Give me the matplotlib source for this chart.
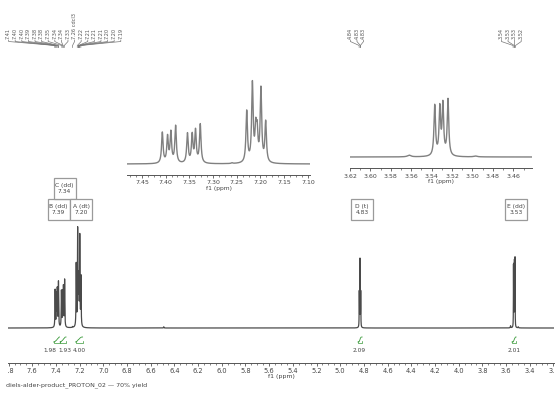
import numpy as np
import matplotlib
matplotlib.use("Agg")
import matplotlib.pyplot as plt
from matplotlib.ticker import MultipleLocator, AutoMinorLocator, FormatStrFormatter
from matplotlib.patches import Rectangle
from matplotlib.lines import Line2D
from matplotlib.transforms import Affine2D, Bbox, TransformedBbox, blended_transform_factory

# ---------------- data ----------------
peak_ppm = [7.407, 7.396, 7.389, 7.379, 7.354, 7.344, 7.337, 7.327, 7.260,
            7.229, 7.217, 7.210, 7.207, 7.199, 7.189,
            6.490,
            4.839, 4.833, 4.827,
            3.562, 3.537, 3.532, 3.529, 3.524, 3.497]
peak_amp = [0.365, 0.31, 0.36, 0.44, 0.35, 0.33, 0.38, 0.46, 0.008,
            0.61, 0.93, 0.36, 0.33, 0.87, 0.48,
            0.012,
            0.34, 0.66, 0.34,
            0.02, 0.60, 0.56, 0.60, 0.67, 0.010]
peak_hwhm = [0.0019] * 15 + [0.002] + [0.0012] * 3 + [0.002, 0.0009, 0.0009, 0.0009, 0.0009, 0.002]

label_group_aromatic = ["7.41", "7.40", "7.40", "7.39", "7.38", "7.38", "7.35", "7.34", "7.34",
                        "7.33", "7.26 cdcl3", "7.22", "7.21", "7.21", "7.21", "7.20", "7.20", "7.19"]
label_group_d = ["4.84", "4.83", "4.83"]
label_group_e = ["3.54", "3.53", "3.53", "3.52"]

mult_names = ["B (dd)", "C (dd)", "A (dt)", "D (t)", "E (dd)"]
mult_shifts = [7.39, 7.34, 7.20, 4.83, 3.53]

integral_lo = [7.37, 7.315, 7.175, 4.815, 3.515]
integral_hi = [7.42, 7.365, 7.235, 4.850, 3.550]
integral_vals = ["1.98", "1.93", "4.00", "2.09", "2.01"]
integral_text_ppm = [7.448, 7.327, 7.201, 4.838, 3.536]

caption = "diels-alder-product_PROTON_02 \u2014 70% yield"

# ---------------- helpers ----------------
W, H = 560, 396
fig = plt.figure(figsize=(W / 100, H / 100), dpi=100)
trans_px = Affine2D().scale(1.0 / W, -1.0 / H).translate(0, 1) + fig.transFigure

P = np.array(peak_ppm)
A = np.array(peak_amp)
G = np.array(peak_hwhm)


def spectrum(x):
    x = np.asarray(x)[:, None]
    return (A[None, :] / (1.0 + ((x - P[None, :]) / G[None, :]) ** 2)).sum(axis=1)


TXT = "#444444"
AXC = "#555555"


def style_axis(ax, major, nminor, fmt, labelsize, pad):
    for s in ("left", "right", "top"):
        ax.spines[s].set_visible(False)
    ax.spines["bottom"].set_color(AXC)
    ax.spines["bottom"].set_linewidth(0.7)
    ax.yaxis.set_visible(False)
    ax.patch.set_alpha(0)
    ax.xaxis.set_major_locator(MultipleLocator(major))
    ax.xaxis.set_minor_locator(AutoMinorLocator(nminor))
    ax.xaxis.set_major_formatter(FormatStrFormatter(fmt))
    ax.tick_params(axis="x", which="major", direction="out", length=2.4, width=0.6,
                   color=AXC, labelsize=labelsize, labelcolor=TXT, pad=pad)
    ax.tick_params(axis="x", which="minor", direction="out", length=1.3, width=0.5, color=AXC)


# ---------------- main axes ----------------
ML, MR, MB, MT = 8, 554, 363, 40
XL0, XL1 = 7.805, 3.195
ax = fig.add_axes([ML / W, 1 - MB / H, (MR - ML) / W, (MB - MT) / H])
unit_main = 102.0
base_main = 328.0
ax.set_xlim(XL0, XL1)
ax.set_ylim(-(MB - base_main) / unit_main, (base_main - MT) / unit_main)
xm = np.linspace(XL0, XL1, 70000)
ax.plot(xm, spectrum(xm), color="#4a4a4a", lw=0.9)
style_axis(ax, 0.2, 4, "%.1f", 4.8, 1.0)
ax.set_xlabel("f1 (ppm)", fontsize=4.5, color=TXT, labelpad=0.5)

clipbox = TransformedBbox(Bbox([[0, -1], [1, 1]]), ax.transAxes)
for lab in ax.get_xticklabels():
    lab.set_clip_on(True)
    lab.set_clip_box(clipbox)


def ppm_to_px(p):
    return ML + (XL0 - p) / (XL0 - XL1) * (MR - ML)


# ---------------- insets ----------------
unit_in = 84.0


def make_inset(l, r, bottom, base, top, xlim, major, nminor):
    a = fig.add_axes([l / W, 1 - bottom / H, (r - l) / W, (bottom - top) / H])
    a.set_xlim(*xlim)
    a.set_ylim(-(bottom - base) / unit_in, (base - top) / unit_in)
    xi = np.linspace(xlim[0], xlim[1], 8000)
    a.plot(xi, spectrum(xi), color="#808080", lw=1.0)
    style_axis(a, major, nminor, "%.2f", 4.5, 1.5)
    a.set_xlabel("f1 (ppm)", fontsize=4.3, color=TXT, labelpad=0.3)
    return a


make_inset(127, 310, 175, 164, 70, (7.4815, 7.0955), 0.05, 4)
make_inset(350, 531.7, 168.3, 157, 70, (3.620, 3.442), 0.02, 2)

# ---------------- peak labels ----------------
LAB_Y = 39.0
for labels in (label_group_aromatic, label_group_d, label_group_e):
    targets = [ppm_to_px(float(s.split()[0])) for s in labels]
    n = len(labels)
    spacing = 6.6
    center = np.mean(targets) - 3
    xs = center + (np.arange(n) - (n - 1) / 2) * spacing
    for s, lx, tx in zip(labels, xs, targets):
        fig.text(lx, LAB_Y, s, rotation=90, ha="center", va="bottom", fontsize=3.6,
                 color="#555555", transform=trans_px)
        fig.add_artist(Line2D([lx, lx, tx, tx], [40, 41.5, 45.5, 47.5], transform=trans_px,
                              color="#777777", lw=0.5))

# ---------------- multiplet boxes ----------------
BW, BH = 22.0, 21.0
placed = []
for name, sh in sorted(zip(mult_names, mult_shifts), key=lambda t: -t[1]):
    cx = ppm_to_px(sh) + 1.5
    level = 0
    while any(lv == level and abs(pcx - cx) < BW - 0.5 for pcx, lv in placed):
        level += 1
    placed.append((cx, level))
    top = 199 - level * BH
    fig.add_artist(Rectangle((cx - BW / 2, top), BW, BH, transform=trans_px,
                             facecolor="white", edgecolor="#9a9a9a", lw=0.9))
    fig.text(cx, top + BH / 2, f"{name}\n{sh:.2f}", ha="center", va="center",
             fontsize=4.3, color=TXT, linespacing=1.35, transform=trans_px)

# ---------------- integrals ----------------
GREEN = "#3a9a3a"
btrans = blended_transform_factory(ax.transData, trans_px)
for lo, hi, val, tp in zip(integral_lo, integral_hi, integral_vals, integral_text_ppm):
    xi = np.linspace(hi, lo, 400)
    cum = np.cumsum(spectrum(xi))
    cum = cum / cum[-1]
    ax.plot(xi, 342 - 5 * cum, color=GREEN, lw=0.6, transform=btrans, clip_on=False)
    ax.plot([hi, hi, lo, lo], [341, 343, 343, 341], color=GREEN, lw=0.5,
            transform=btrans, clip_on=False)
    ax.text(tp, 351, val, ha="center", va="center", fontsize=4.2, color=TXT,
            transform=btrans)

# ---------------- caption ----------------
fig.text(6, 385, caption, ha="left", va="center", fontsize=4.5, color=TXT, transform=trans_px)

fig.savefig("out.png", dpi=100)
